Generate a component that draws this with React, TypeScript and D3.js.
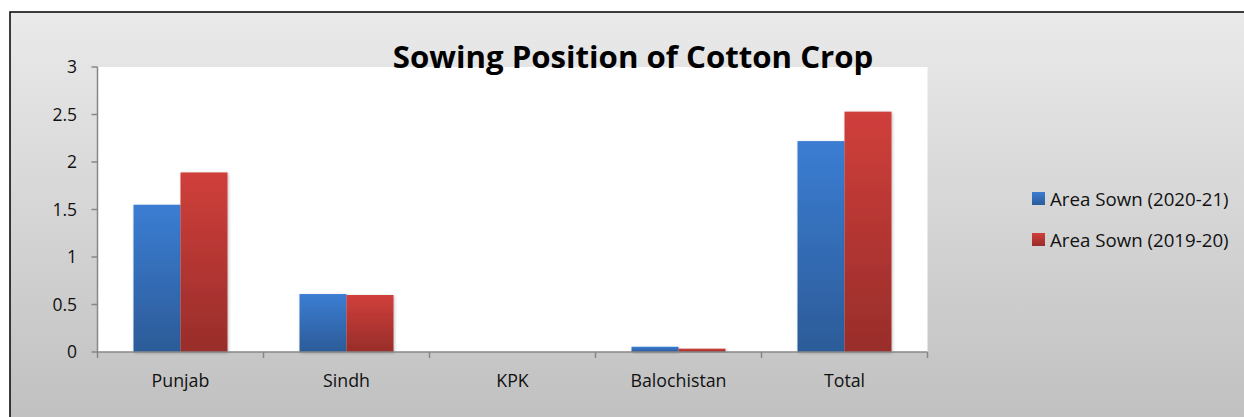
import React from "react";
import * as d3 from "d3";

const categories = ["Punjab", "Sindh", "KPK", "Balochistan", "Total"];
const area2020_21 = [1.55, 0.61, 0, 0.055, 2.22];
const area2019_20 = [1.89, 0.6, 0, 0.035, 2.53];
const yTicks = [0, 0.5, 1, 1.5, 2, 2.5, 3];
const seriesNames = ["Area Sown (2020-21)", "Area Sown (2019-20)"];

export default function App() {
  const W = 1244, H = 417;
  const plot = { x0: 97.5, x1: 927.5, y0: 67, y1: 352 };
  const y = d3.scaleLinear().domain([0, 3]).range([plot.y1, plot.y0]);
  const x = d3.scaleBand().domain(categories).range([plot.x0, plot.x1]).paddingInner(0).paddingOuter(0);
  const barW = 47;
  const series = [area2020_21, area2019_20];
  const font = "'Open Sans', 'Noto Sans', sans-serif";
  return (
    <svg width={W} height={H} style={{ position: "absolute", left: 0, top: 0 }}>
      <defs>
        <linearGradient id="bg" x1="0" y1="0" x2="0" y2="1">
          <stop offset="0" stopColor="#eaeaea" />
          <stop offset="1" stopColor="#bfbfbf" />
        </linearGradient>
        <linearGradient id="g0" x1="0" y1="0" x2="0" y2="1">
          <stop offset="0" stopColor="#3b7dd3" />
          <stop offset="1" stopColor="#2c5b98" />
        </linearGradient>
        <linearGradient id="g1" x1="0" y1="0" x2="0" y2="1">
          <stop offset="0" stopColor="#d03f3b" />
          <stop offset="1" stopColor="#982d2a" />
        </linearGradient>
        <filter id="sh" x="-20%" y="-20%" width="140%" height="140%">
          <feDropShadow dx="1" dy="1" stdDeviation="1.5" floodColor="#000" floodOpacity="0.25" />
        </filter>
      </defs>
      <rect x={10} y={12} width={1260} height={420} fill="url(#bg)" stroke="#000" strokeWidth={1.5} />
      <rect x={plot.x0} y={plot.y0} width={plot.x1 - plot.x0} height={plot.y1 - plot.y0} fill="#fff" />
      {categories.map((c, i) => {
        const cx = x(c)! + x.bandwidth() / 2;
        return series.map((s, k) => {
          const v = s[i];
          if (v <= 0) return null;
          const bx = cx - barW + k * barW;
          return (
            <rect key={c + k} x={bx} y={y(v)} width={barW} height={y(0) - y(v)} fill={`url(#g${k})`} filter="url(#sh)" />
          );
        });
      })}
      <line x1={plot.x0} x2={plot.x0} y1={plot.y0} y2={plot.y1} stroke="#878787" strokeWidth={1.5} />
      <line x1={plot.x0} x2={plot.x1} y1={plot.y1} y2={plot.y1} stroke="#878787" strokeWidth={1.5} />
      {yTicks.map((t) => (
        <g key={t}>
          <line x1={plot.x0 - 6} x2={plot.x0} y1={y(t)} y2={y(t)} stroke="#878787" strokeWidth={1.5} />
          <text x={77} y={y(t)} dy="0.35em" textAnchor="end" fontFamily={font} fontSize={17.5} fill="#111">{t}</text>
        </g>
      ))}
      {categories.map((c) => (
        <line key={"t" + c} x1={x(c)!} x2={x(c)!} y1={plot.y1} y2={plot.y1 + 6} stroke="#878787" strokeWidth={1.5} />
      ))}
      <line x1={plot.x1} x2={plot.x1} y1={plot.y1} y2={plot.y1 + 6} stroke="#878787" strokeWidth={1.5} />
      {categories.map((c) => (
        <text key={"l" + c} x={x(c)! + x.bandwidth() / 2} y={381} dy="0.35em" textAnchor="middle" fontFamily={font} fontSize={17.8} fill="#111">{c}</text>
      ))}
      <text x={633} y={68} textAnchor="middle" fontFamily={font} fontWeight="bold" fontSize={31.2} fill="#000">Sowing Position of Cotton Crop</text>
      {seriesNames.map((n, k) => (
        <g key={n}>
          <rect x={1032} y={192 + k * 41} width={13} height={13} fill={`url(#g${k})`} />
          <text x={1050} y={199 + k * 41} dy="0.35em" fontFamily={font} fontSize={18.7} fill="#111">{n}</text>
        </g>
      ))}
    </svg>
  );
}
